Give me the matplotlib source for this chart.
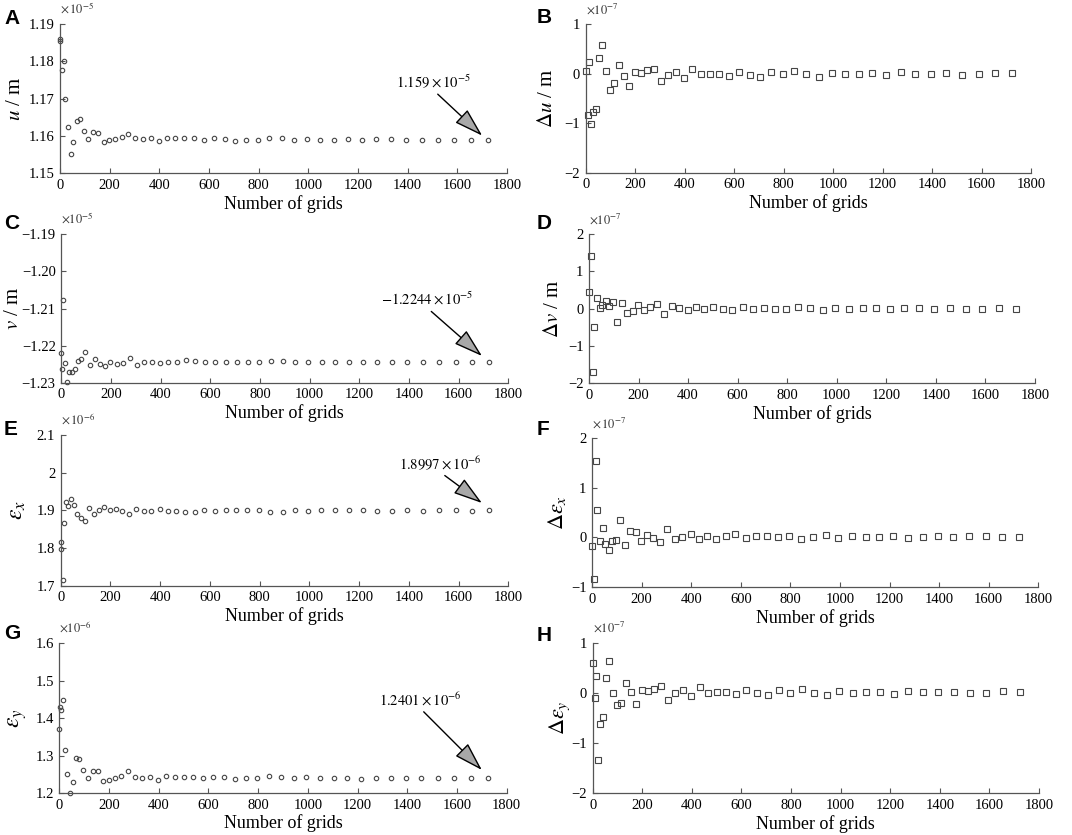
import numpy as np
import matplotlib
matplotlib.use('Agg')
import matplotlib.pyplot as plt
from matplotlib.ticker import FuncFormatter

plt.rcParams['font.family'] = ['Liberation Serif', 'DejaVu Serif']
plt.rcParams['mathtext.fontset'] = 'stix'

# number of grids (x for the value panels, Δ panels use grids[1:])
grids = [0, 2, 8, 15, 21, 31, 43, 54, 67, 81, 97, 114, 134, 154, 176, 198, 223, 248,
         275, 303, 333, 365, 398, 431, 465, 501, 539, 578, 620, 663, 706, 750, 796,
         843, 892, 943, 994, 1048, 1104, 1159, 1215, 1273, 1333, 1394, 1457, 1522,
         1588, 1655, 1723]
grids_delta = grids[1:]

# u (x1e-5 m)
u_vals = [1.1855, 1.1860, 1.1776, 1.1800, 1.1699, 1.1623, 1.1551, 1.1585, 1.1640, 1.1646,
          1.1612, 1.1593, 1.1610, 1.1607, 1.1584, 1.1588, 1.1591, 1.1597, 1.1605, 1.1594,
          1.1593, 1.1594, 1.1586, 1.1595, 1.1594, 1.1594, 1.1594, 1.1590, 1.1594, 1.1592,
          1.1586, 1.1590, 1.1589, 1.1595, 1.1594, 1.1589, 1.1591, 1.1589, 1.1589, 1.1591,
          1.1588, 1.1591, 1.1591, 1.1590, 1.1590, 1.1589, 1.1588, 1.1589, 1.1590]
# Δu (x1e-7 m)
du_vals = [0.05, -0.84, 0.24, -1.02, -0.78, -0.71, 0.32, 0.57, 0.05, -0.34,
           -0.20, 0.18, -0.04, -0.25, 0.04, 0.02, 0.07, 0.09, -0.14, -0.03,
           0.03, -0.09, 0.09, -0.01, 0.0, -0.01, -0.04, 0.03, -0.03, -0.07,
           0.04, -0.01, 0.05, -0.01, -0.06, 0.02, -0.01, -0.01, 0.02, -0.03,
           0.03, -0.01, -0.01, 0.01, -0.02, -0.01, 0.02, 0.01]
# v (x1e-5 m)
v_vals = [-1.2219, -1.2264, -1.2077, -1.2248, -1.2298, -1.2270, -1.2270, -1.2262, -1.2241, -1.2236,
          -1.2218, -1.2253, -1.2237, -1.2249, -1.2255, -1.2245, -1.2249, -1.2247, -1.2234, -1.2251,
          -1.2244, -1.2243, -1.2247, -1.2243, -1.2245, -1.2240, -1.2241, -1.2245, -1.2243, -1.2245,
          -1.2244, -1.2244, -1.2245, -1.2241, -1.2241, -1.2245, -1.2243, -1.2244, -1.2243, -1.2243,
          -1.2245, -1.2243, -1.2243, -1.2244, -1.2244, -1.2244, -1.2244, -1.2243, -1.2243]
# Δv (x1e-7 m)
dv_vals = [0.44, 1.42, -1.69, -0.48, 0.29, 0.01, 0.10, 0.21, 0.08, 0.19,
           -0.35, 0.16, -0.11, -0.05, 0.10, -0.04, 0.04, 0.13, -0.15, 0.06,
           0.01, -0.03, 0.04, -0.01, 0.05, 0.0, -0.04, 0.04, -0.02, 0.01,
           0.0, 0.0, 0.05, 0.01, -0.03, 0.02, -0.01, 0.01, 0.01, 0.0,
           0.01, 0.01, 0.0, 0.01, 0.0, 0.0, 0.01, 0.0]
# εx (x1e-6)
ex_vals = [1.816, 1.797, 1.715, 1.867, 1.923, 1.912, 1.929, 1.915, 1.889, 1.881,
           1.873, 1.905, 1.889, 1.901, 1.910, 1.901, 1.903, 1.899, 1.889, 1.903,
           1.899, 1.899, 1.903, 1.899, 1.899, 1.896, 1.896, 1.902, 1.899, 1.901,
           1.902, 1.901, 1.902, 1.896, 1.896, 1.901, 1.899, 1.900, 1.901, 1.900,
           1.901, 1.899, 1.899, 1.900, 1.899, 1.900, 1.901, 1.899, 1.900]
# Δεx (x1e-7)
dex_vals = [-0.17, -0.83, 1.54, 0.55, -0.07, 0.18, -0.14, -0.25, -0.08, -0.06,
            0.35, -0.16, 0.13, 0.11, -0.08, 0.04, -0.02, -0.10, 0.17, -0.03,
            0.0, 0.06, -0.04, 0.02, -0.03, 0.02, 0.06, -0.01, 0.02, 0.02,
            0.0, 0.02, -0.03, 0.0, 0.05, -0.01, 0.02, 0.01, 0.0, 0.02,
            -0.01, 0.0, 0.03, 0.0, 0.02, 0.02, 0.0, 0.0]
# εy (x1e-6)
ey_vals = [1.370, 1.429, 1.422, 1.449, 1.314, 1.251, 1.201, 1.229, 1.293, 1.290,
           1.261, 1.239, 1.258, 1.258, 1.233, 1.236, 1.240, 1.245, 1.258, 1.242,
           1.240, 1.244, 1.236, 1.246, 1.244, 1.244, 1.244, 1.240, 1.244, 1.242,
           1.238, 1.241, 1.240, 1.245, 1.244, 1.239, 1.242, 1.240, 1.240, 1.241,
           1.238, 1.241, 1.240, 1.240, 1.240, 1.239, 1.239, 1.240, 1.241]
# Δεy (x1e-7)
dey_vals = [0.59, -0.10, 0.33, -1.33, -0.61, -0.49, 0.30, 0.63, 0.0, -0.25,
            -0.20, 0.19, 0.01, -0.22, 0.05, 0.04, 0.07, 0.14, -0.15, 0.0,
            0.05, -0.07, 0.12, -0.01, 0.02, 0.02, -0.03, 0.06, 0.0, -0.04,
            0.06, 0.0, 0.08, 0.0, -0.04, 0.04, 0.0, 0.01, 0.02, -0.02,
            0.04, 0.01, 0.01, 0.01, 0.0, 0.0, 0.03, 0.02]

W, H = 1072, 835
fig = plt.figure(figsize=(W / 100, H / 100), dpi=100)

edge = '#454545'


def make_ax(l, t, r, b):
    ax = fig.add_axes([l / W, 1 - b / H, (r - l) / W, (b - t) / H])
    ax._box_px = (l, r)
    return ax


def formatter(pattern):
    def f(v, pos):
        return (pattern % round(v, 6)).replace('-', '\u2212')
    return FuncFormatter(f)


def style(ax, ylim, yticks, ylabel, label_x, offset, letter, letter_xy,
          yfmt='%g', ylabel_size=15):
    ax.set_xlim(0, 1800)
    ax.set_ylim(*ylim)
    ax.set_xticks(np.arange(0, 1801, 200))
    ax.set_yticks(yticks)
    ax.yaxis.set_major_formatter(formatter(yfmt))
    for s in ['top', 'right']:
        ax.spines[s].set_visible(False)
    for s in ['left', 'bottom']:
        ax.spines[s].set_color('#555555')
        ax.spines[s].set_linewidth(0.9)
    ax.tick_params(direction='in', length=3.5, width=0.8, color='#555555',
                   labelsize=10.5, pad=4)
    ax.set_xlabel('Number of grids', fontsize=13, labelpad=2)
    ax.set_ylabel(ylabel, fontsize=ylabel_size, va='center')
    l, r = ax._box_px
    ax.yaxis.set_label_coords((label_x - l) / (r - l), 0.5)
    ax.text(0.0, 1.05, offset, transform=ax.transAxes, fontsize=9,
            ha='left', va='bottom', color='#333333')
    fig.text(letter_xy[0] / W, 1 - letter_xy[1] / H, letter, fontsize=15,
             fontweight='bold', family='Liberation Sans', va='top', ha='left')


def circles(ax, x, y):
    ax.plot(x, y, 'o', ms=3.2, mfc='none', mec=edge, mew=0.8, clip_on=False)


def squares(ax, x, y):
    ax.plot(x, y, 's', ms=3.8, mfc='none', mec=edge, mew=0.8, clip_on=False)


def arrow(ax, text, tip, txt):
    ax.annotate(text, xy=tip, xytext=txt, textcoords='data', fontsize=10.5,
                ha='center', va='bottom',
                arrowprops=dict(arrowstyle='-|>,head_length=1.3,head_width=0.4',
                                fc='#a8a8a8', ec='black', lw=1.0,
                                mutation_scale=14, relpos=(0.5, 0),
                                shrinkA=1, shrinkB=0))


# A
ax = make_ax(60, 24, 507, 173.3)
circles(ax, grids, u_vals)
style(ax, (1.15, 1.19), [1.15, 1.16, 1.17, 1.18, 1.19], r'$u$ / m', 16,
      r'$\times\,10^{-5}$', 'A', (4, 9), yfmt='%.2f')
arrow(ax, r'$1.159\times10^{-5}$', (1700, 1.1601), (1505, 1.1722))

# B
ax = make_ax(585.7, 24, 1031, 172.7)
squares(ax, grids_delta, du_vals)
style(ax, (-2, 1), [-2, -1, 0, 1], r'$\Delta u$ / m', 548,
      r'$\times10^{-7}$', 'B', (537, 8))

# C
ax = make_ax(61.3, 234.3, 508.3, 382.7)
circles(ax, grids, v_vals)
style(ax, (-1.23, -1.19), [-1.23, -1.22, -1.21, -1.20, -1.19], r'$v$ / m', 13,
      r'$\times10^{-5}$', 'C', (4, 214), yfmt='%.2f')
arrow(ax, r'$-1.2244\times10^{-5}$', (1694, -1.2228), (1473, -1.2098))

# D
ax = make_ax(589, 234, 1035, 383.3)
squares(ax, grids_delta, dv_vals)
style(ax, (-2, 2), [-2, -1, 0, 1, 2], r'$\Delta v$ / m', 553,
      r'$\times10^{-7}$', 'D', (537, 214))

# E
ax = make_ax(60.7, 435, 508.3, 585.7)
circles(ax, grids, ex_vals)
style(ax, (1.7, 2.1), [1.7, 1.8, 1.9, 2.0, 2.1], r'$\varepsilon_x$', 18,
      r'$\times\,10^{-6}$', 'E', (4, 420), ylabel_size=17)
arrow(ax, r'$1.8997\times10^{-6}$', (1694, 1.9195), (1525, 2.002))

# F
ax = make_ax(592, 437.7, 1038.3, 587.3)
squares(ax, grids_delta, dex_vals)
style(ax, (-1, 2), [-1, 0, 1, 2], r'$\Delta\varepsilon_x$', 557,
      r'$\times\,10^{-7}$', 'F', (537, 420), ylabel_size=16)

# G
ax = make_ax(59.3, 643.3, 506.7, 793)
circles(ax, grids, ey_vals)
style(ax, (1.2, 1.6), [1.2, 1.3, 1.4, 1.5, 1.6], r'$\varepsilon_y$', 18,
      r'$\times10^{-6}$', 'G', (4, 624), ylabel_size=17)
arrow(ax, r'$1.2401\times10^{-6}$', (1700, 1.2615), (1451, 1.427))

# H
ax = make_ax(592.7, 642.7, 1039, 793.3)
squares(ax, grids_delta, dey_vals)
style(ax, (-2, 1), [-2, -1, 0, 1], r'$\Delta\varepsilon_y$', 560,
      r'$\times10^{-7}$', 'H', (537, 626), ylabel_size=16)

fig.savefig('out.png', dpi=100)
